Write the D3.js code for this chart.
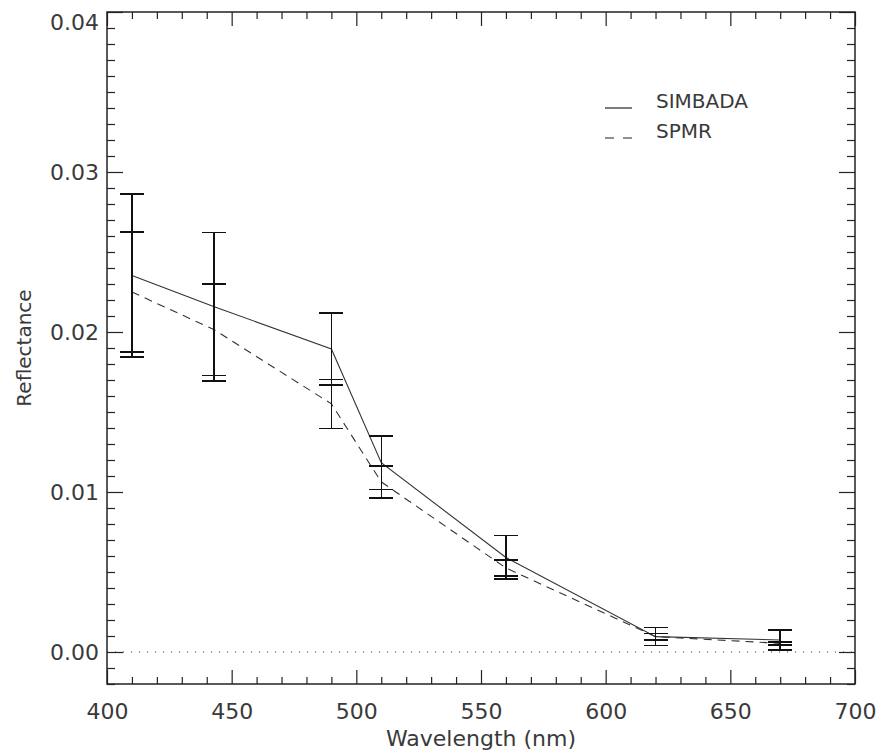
<!DOCTYPE html>
<html>
<head>
<meta charset="utf-8">
<script src="https://cdn.jsdelivr.net/npm/d3@7"></script>
<style>
  body { margin: 0; background: #fff; }
  text { font-family: "DejaVu Sans", sans-serif; fill: #3a3a3a; }
</style>
</head>
<body>
<svg id="chart" width="877" height="756"></svg>
<script>
(function() {
  var wavelengths = [410, 443, 490, 510, 560, 620, 670];
  var simbada = [0.02353, 0.02158, 0.01894, 0.01183, 0.00591, 0.00096, 0.00075];
  var simbadaErr = [0.0051, 0.00463, 0.00224, 0.00167, 0.00136, 0.00056, 0.000625];
  var spmr = [0.0225, 0.02014, 0.01551, 0.01063, 0.00525, 0.00096, 0.00054];
  var spmrErr = [0.00375, 0.00286, 0.00153, 0.001, 0.0005, 0.0002, 0.0001];
  var xTicks = [400, 450, 500, 550, 600, 650, 700];
  var yTicks = [0, 0.01, 0.02, 0.03, 0.04];
  var seriesNames = ["SIMBADA", "SPMR"];

  var svg, x, y, margin, w, h, plot, line, xMinor, yMinor, legend;

  margin = {left: 107, top: 12, right: 22, bottom: 72};
  svg = d3.select('#chart');
  w = 877 - margin.left - margin.right;
  h = 756 - margin.top - margin.bottom;

  x = d3.scaleLinear().domain([400, 700]).range([0, w]);
  y = d3.scaleLinear().domain([-0.002, 0.04]).range([h, 0]);

  plot = svg.append("g").attr("transform", "translate(" + margin.left + "," + margin.top + ")");

  xMinor = d3.range(400, 701, 10).filter(function(d) { return d % 50 !== 0; });
  yMinor = d3.range(-2, 41).map(function(d) { return d / 1000; }).filter(function(d) {
    return Math.round(d * 1000) % 10 !== 0;
  });

  // axes on all four sides, ticks pointing inward
  var bottom = plot.append("g").attr("transform", "translate(0," + h + ")")
    .call(d3.axisBottom(x).tickValues(xTicks).tickSize(-14).tickPadding(19).tickFormat(d3.format("d")));
  bottom.append("g").call(d3.axisBottom(x).tickValues(xMinor).tickSize(-7).tickFormat(""));
  var top = plot.append("g")
    .call(d3.axisTop(x).tickValues(xTicks).tickSize(-14).tickFormat(""));
  top.append("g").call(d3.axisTop(x).tickValues(xMinor).tickSize(-7).tickFormat(""));
  var left = plot.append("g")
    .call(d3.axisLeft(y).tickValues(yTicks).tickSize(-16).tickPadding(8).tickFormat(d3.format(".2f")));
  left.append("g").call(d3.axisLeft(y).tickValues(yMinor).tickSize(-8).tickFormat(""));
  var right = plot.append("g").attr("transform", "translate(" + w + ",0)")
    .call(d3.axisRight(y).tickValues(yTicks).tickSize(-16).tickFormat(""));
  right.append("g").call(d3.axisRight(y).tickValues(yMinor).tickSize(-8).tickFormat(""));

  plot.selectAll(".domain").remove();
  plot.selectAll(".tick line").attr("stroke", "#222").attr("stroke-width", 1.2);
  plot.selectAll(".tick text").style("font-size", "22px").attr("fill", "#3a3a3a");
  left.selectAll(".tick text").attr("dy", function(d) {
    // the top label sits just under the frame edge
    return d === 0.04 ? "0.78em" : "0.36em";
  });

  plot.append("rect").attr("width", w).attr("height", h)
    .attr("fill", "none").attr("stroke", "#222").attr("stroke-width", 1.5);

  // zero line
  plot.append("line").attr("x1", 0).attr("x2", w).attr("y1", y(0)).attr("y2", y(0))
    .attr("stroke", "#333").attr("stroke-width", 1).attr("stroke-dasharray", "1,7");

  line = d3.line().x(function(d) { return x(d[0]); }).y(function(d) { return y(d[1]); });

  plot.append("path").datum(d3.zip(wavelengths, simbada)).attr("d", line)
    .attr("fill", "none").attr("stroke", "#333").attr("stroke-width", 1.1);
  plot.append("path").datum(d3.zip(wavelengths, spmr)).attr("d", line)
    .attr("fill", "none").attr("stroke", "#333").attr("stroke-width", 1.1)
    .attr("stroke-dasharray", "8,6");

  var drawErr = function(vals, errs) {
    var g = plot.append("g").attr("stroke", "#111").attr("stroke-width", 1.5)
      .attr("shape-rendering", "crispEdges");
    wavelengths.forEach(function(wl, i) {
      var lo = y(vals[i] - errs[i]), hi = y(vals[i] + errs[i]), cx = x(wl);
      g.append("line").attr("x1", cx).attr("x2", cx).attr("y1", lo).attr("y2", hi);
      g.append("line").attr("x1", cx - 12).attr("x2", cx + 12).attr("y1", lo).attr("y2", lo);
      g.append("line").attr("x1", cx - 12).attr("x2", cx + 12).attr("y1", hi).attr("y2", hi);
    });
  };
  drawErr(simbada, simbadaErr);
  drawErr(spmr, spmrErr);

  // axis titles
  svg.append("text").attr("x", margin.left + w / 2).attr("y", 746)
    .attr("text-anchor", "middle").style("font-size", "22px").text("Wavelength (nm)");
  svg.append("text").attr("transform", "translate(31," + (margin.top + h / 2) + ") rotate(-90)")
    .attr("text-anchor", "middle").style("font-size", "20px").text("Reflectance");

  // legend
  legend = svg.append("g");
  seriesNames.forEach(function(name, i) {
    var ly = 108 + i * 30;
    legend.append("line").attr("x1", 605).attr("x2", 632).attr("y1", ly).attr("y2", ly)
      .attr("stroke", "#222").attr("stroke-width", 1.2)
      .attr("stroke-dasharray", i === 1 ? "9,9" : null);
    legend.append("text").attr("x", 656).attr("y", ly).style("font-size", "20px").text(name);
  });
}).call(this);
</script>
</body>
</html>
